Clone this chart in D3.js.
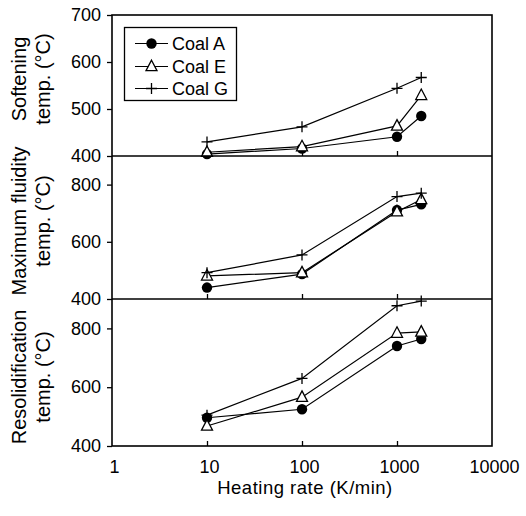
<!DOCTYPE html>
<html>
<head>
<meta charset="utf-8">
<script src="https://cdn.jsdelivr.net/npm/d3@7"></script>
<style>
  body { margin: 0; background: #fff; }
  text { font-family: "Liberation Sans", Arial, sans-serif; fill: #000; }
</style>
</head>
<body>
<div id="chart"></div>
<script>
// heating rates (K/min)
var heatingRates = [10, 100, 1000, 1800];
var seriesNames = ["Coal A", "Coal E", "Coal G"];
var seriesMarkers = ["circle", "triangle", "plus"];

// softening temperature (°C)
var softeningA = [404, 416, 441, 485];
var softeningE = [408, 420, 464, 529];
var softeningG = [430, 462, 544, 567];

// maximum fluidity temperature (°C)
var maxFluidityA = [440, 487, 711, 731];
var maxFluidityE = [481, 492, 705, 748];
var maxFluidityG = [492, 554, 758, 770];

// resolidification temperature (°C)
var resolidA = [496, 525, 740, 764];
var resolidE = [468, 566, 784, 788];
var resolidG = [505, 630, 877, 893];

var xTickValues = [1, 10, 100, 1000, 10000];
var panelLabels = [["Softening", "temp. (°C)"], ["Maximum fluidity", "temp. (°C)"], ["Resolidification", "temp. (°C)"]];
var panelDomains = [[400, 700], [400, 900], [400, 900]];
var panelTicks = [[400, 500, 600, 700], [400, 600, 800], [400, 600, 800]];
var panelSeries = [
    [softeningA, softeningE, softeningG],
    [maxFluidityA, maxFluidityE, maxFluidityG],
    [resolidA, resolidE, resolidG]
];

var width = 526, height = 516;
var left = 112, right = 492;
var panelTop = [15, 156, 299];
var panelBottom = [156, 299, 446];
var labelCenters = [79, 221, 377];

var svg = d3.select("#chart")
    .append("svg")
    .attr("width", width)
    .attr("height", height);

var x = d3.scaleLog()
    .domain([1, 10000])
    .range([left, right]);

function drawMarker(g, type, px, py) {
    if (type === "circle") {
        g.append("circle").attr("cx", px).attr("cy", py).attr("r", 5.2)
            .style("fill", "#000");
    } else if (type === "triangle") {
        var w = 11, h = 10.5;
        g.append("path")
            .attr("d", "M" + px + "," + (py - h * 0.6) + "L" + (px + w / 2) + "," + (py + h * 0.4) +
                "L" + (px - w / 2) + "," + (py + h * 0.4) + "Z")
            .style("fill", "#fff").style("stroke", "#000").style("stroke-width", 1.3);
    } else {
        g.append("path")
            .attr("d", "M" + (px - 5.5) + "," + py + "H" + (px + 5.5) + "M" + px + "," + (py - 5.5) + "V" + (py + 5.5))
            .style("stroke", "#000").style("stroke-width", 1.3);
    }
}

panelSeries.forEach(function(series, p) {
    var y = d3.scaleLinear()
        .domain(panelDomains[p])
        .range([panelBottom[p], panelTop[p]]);

    // left axis, ticks outward
    var ya = svg.append("g")
        .attr("transform", "translate(" + left + ",0)")
        .call(d3.axisLeft(y).tickValues(panelTicks[p]).tickSize(5).tickPadding(6));
    ya.select(".domain").remove();
    ya.selectAll("text").style("font-size", "18px").style("font-family", "Liberation Sans, Arial, sans-serif");
    ya.selectAll("line").style("stroke-width", 1.3);

    // bottom ticks pointing up into the panel
    var xa = svg.append("g")
        .attr("transform", "translate(0," + panelBottom[p] + ")")
        .call(d3.axisBottom(x).tickValues([10, 100, 1000]).tickSize(-5).tickFormat(""));
    xa.select(".domain").remove();
    xa.selectAll("line").style("stroke-width", 1.3);

    // panel label
    var lab = svg.append("text")
        .attr("transform", "translate(26," + labelCenters[p] + ") rotate(-90)")
        .attr("text-anchor", "middle")
        .style("font-size", "20px");
    lab.append("tspan").attr("x", 0).attr("y", 0).text(panelLabels[p][0]);
    lab.append("tspan").attr("x", 0).attr("y", 24).text(panelLabels[p][1]);

    series.forEach(function(vals, s) {
        var pts = heatingRates.map(function(r, i) { return [x(r), y(vals[i])]; });
        svg.append("path")
            .attr("d", d3.line()(pts))
            .style("fill", "none")
            .style("stroke", "#000")
            .style("stroke-width", 1.2);
        var mg = svg.append("g");
        pts.forEach(function(pt) { drawMarker(mg, seriesMarkers[s], pt[0], pt[1]); });
    });
});

// frame and panel dividers
svg.append("rect")
    .attr("x", left).attr("y", panelTop[0])
    .attr("width", right - left).attr("height", panelBottom[2] - panelTop[0])
    .style("fill", "none").style("stroke", "#000").style("stroke-width", 1.6);
[156, 299].forEach(function(yy) {
    svg.append("line")
        .attr("x1", left).attr("x2", right).attr("y1", yy).attr("y2", yy)
        .style("stroke", "#000").style("stroke-width", 1.6);
});

// x axis labels
var xb = svg.append("g")
    .attr("transform", "translate(0," + panelBottom[2] + ")")
    .call(d3.axisBottom(x).tickValues(xTickValues).tickSize(0).tickPadding(14).tickFormat(d3.format("d")));
xb.select(".domain").remove();
xb.selectAll("text").attr("dx", 2).style("font-size", "18px").style("font-family", "Liberation Sans, Arial, sans-serif");

svg.append("text")
    .attr("x", 305)
    .attr("y", 494)
    .attr("text-anchor", "middle")
    .style("font-size", "18.5px")
    .style("letter-spacing", "0.5px")
    .text("Heating rate (K/min)");

// legend
var legend = svg.append("g");
legend.append("rect")
    .attr("x", 124.5).attr("y", 27.5).attr("width", 112).attr("height", 73)
    .style("fill", "#fff").style("stroke", "#000").style("stroke-width", 1.3);
var rowY = [43.5, 66.5, 88.5];
seriesNames.forEach(function(name, s) {
    legend.append("line")
        .attr("x1", 135).attr("x2", 168).attr("y1", rowY[s]).attr("y2", rowY[s])
        .style("stroke", "#000").style("stroke-width", 1.2);
    drawMarker(legend, seriesMarkers[s], 151.5, rowY[s]);
    legend.append("text")
        .attr("x", 172).attr("y", rowY[s]).attr("dy", "0.35em")
        .style("font-size", "18px")
        .text(name);
});
</script>
</body>
</html>
